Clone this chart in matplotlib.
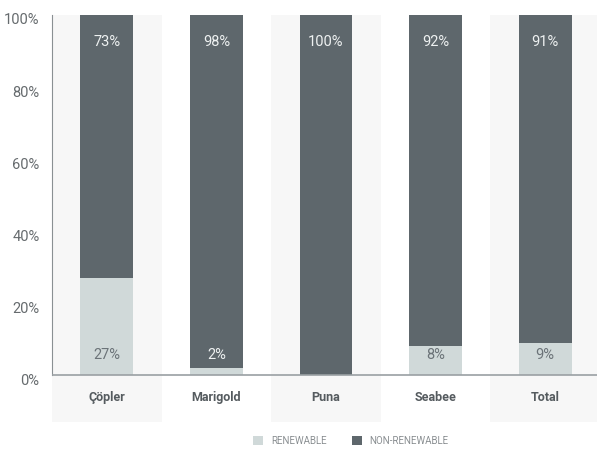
import numpy as np
import matplotlib.pyplot as plt
import matplotlib.transforms as mtransforms

plt.rcParams['font.family'] = ['Liberation Sans Narrow', 'Roboto', 'DejaVu Sans']

SITES = ['Çöpler', 'Marigold', 'Puna', 'Seabee', 'Total']
RENEWABLE = [27, 2, 0, 8, 9]
NON_RENEWABLE = [73, 98, 100, 92, 91]

LIGHT = '#d0d9d9'
DARK = '#5e676c'
BAND = '#f7f7f7'

fig = plt.figure(figsize=(5.97, 4.49), dpi=100)
ax = fig.add_axes([52 / 597, 1 - 422 / 449, 548 / 597, 407 / 449])

x = np.arange(len(SITES))
ax.set_xlim(-0.5, len(SITES) - 0.5)
ax.set_ylim(-13, 100)

# alternate background bands
for i in x:
    if i % 2 == 0:
        ax.axvspan(i - 0.5, i + 0.5, color=BAND, zorder=0, lw=0)

w = 0.48
ax.bar(x, RENEWABLE, w, color=LIGHT, zorder=2, label='RENEWABLE')
ax.bar(x, NON_RENEWABLE, w, bottom=RENEWABLE, color=DARK, zorder=2, label='NON-RENEWABLE')

for i in x:
    ax.text(i, 92.5, f'{NON_RENEWABLE[i]}%', ha='center', va='center',
            color='#eef1f1', fontsize=10.5, zorder=3)
    if RENEWABLE[i] > 0:
        # label sits on the dark part when the light segment is too thin
        col = '#6b7378' if RENEWABLE[i] >= 5 else '#eef1f1'
        ax.text(i, 5.5, f'{RENEWABLE[i]}%', ha='center', va='center',
                color=col, fontsize=10.5, zorder=3)
    ax.text(i, -6.3, SITES[i], ha='center', va='center', color='#555b5f',
            fontsize=9, fontweight='bold', zorder=3)

ax.axhline(0, color='#9aa0a3', lw=1.2, zorder=4)

for s in ['top', 'right', 'bottom']:
    ax.spines[s].set_visible(False)
ax.spines['left'].set_bounds(0, 100)
ax.spines['left'].set_color('#8a9093')
ax.spines['left'].set_position(('data', -0.5))
ax.set_xticks([])
ax.set_yticks([0, 20, 40, 60, 80, 100])
ax.set_yticklabels([f'{v}%' for v in [0, 20, 40, 60, 80, 100]])
ax.tick_params(axis='y', length=0, pad=9, labelcolor='#666b6e', labelsize=10.5)
off = mtransforms.ScaledTranslation(0, -4 / 100, fig.dpi_scale_trans)
for lab in ax.get_yticklabels():
    lab.set_transform(lab.get_transform() + off)

leg = fig.legend(loc='center', bbox_to_anchor=(351 / 597, 1 - 441 / 449), ncol=2,
                 frameon=False, fontsize=7, handlelength=1.0, handleheight=1.0,
                 columnspacing=2.6, handletextpad=0.8)
for t in leg.get_texts():
    t.set_color('#8a8f92')

fig.savefig('out.png', dpi=100)
